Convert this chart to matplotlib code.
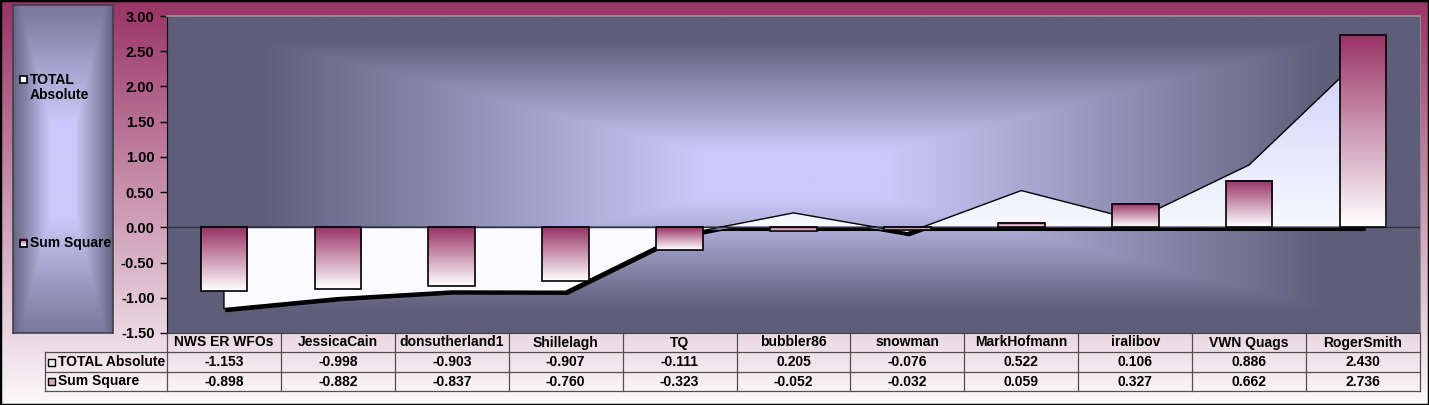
import numpy as np
import matplotlib
matplotlib.use('Agg')
import matplotlib.pyplot as plt
from matplotlib import transforms
from matplotlib.patches import Polygon, Rectangle

plt.rcParams['font.family'] = ['Liberation Sans', 'DejaVu Sans']
plt.rcParams['font.weight'] = 'bold'

categories = ['NWS ER WFOs', 'JessicaCain', 'donsutherland1', 'Shillelagh', 'TQ',
              'bubbler86', 'snowman', 'MarkHofmann', 'iralibov', 'VWN Quags', 'RogerSmith']
total_absolute = [-1.153, -0.998, -0.903, -0.907, -0.111, 0.205, -0.076, 0.522, 0.106, 0.886, 2.430]
sum_square = [-0.898, -0.882, -0.837, -0.760, -0.323, -0.052, -0.032, 0.059, 0.327, 0.662, 2.736]
series_names = ['TOTAL Absolute', 'Sum Square']
y_ticks = [-1.5, -1.0, -0.5, 0.0, 0.5, 1.0, 1.5, 2.0, 2.5, 3.0]

W, H = 1429, 405
MAROON = np.array([153, 51, 102]) / 255
WHITE = np.array([255, 255, 255]) / 255
DARK = np.array([94, 94, 122]) / 255
LIGHT = np.array([202, 202, 250]) / 255


def fx(px):
    return px / W


def fy(py):
    return 1 - py / H


def vgrad(bottom, top, n=256):
    t = np.linspace(0, 1, n)[:, None, None]
    return bottom + (top - bottom) * t


def center_grad(nx, ny, t0=0.15, t1=0.85, vscale=1.0):
    # rectangular "from center" gradient, light in the middle, dark at the edges
    u = np.linspace(0, 1, nx)[None, :]
    v = np.linspace(0, 1, ny)[:, None]
    t = np.maximum(np.abs(u - 0.5) / 0.5, vscale * np.abs(v - 0.5) / 0.5)
    f = np.clip((t - t0) / (t1 - t0), 0, 1)
    return LIGHT + (DARK - LIGHT) * f[:, :, None]


fig = plt.figure(figsize=(W / 100, H / 100), dpi=100)

# figure background: maroon at the top fading to white
bg = fig.add_axes([0, 0, 1, 1], zorder=-10)
bg.imshow(vgrad(np.array([252, 250, 251]) / 255, MAROON), origin='lower',
          extent=(0, 1, 0, 1), aspect='auto')
bg.set_axis_off()

# legend box
lg = fig.add_axes([fx(13), fy(333), fx(113) - fx(13), fy(5) - fy(333)])
lg.imshow(center_grad(200, 600, 0.25, 1.05, 0.86), origin='lower',
          extent=(0, 1, 0, 1), aspect='auto')
lg.set_xticks([])
lg.set_yticks([])
for s in lg.spines.values():
    s.set_color('#404050')
    s.set_linewidth(1.2)

key_w = 7 / 100
key_h = 7 / 328
k1 = 1 - (80 - 5) / 328
k2 = 1 - (243 - 5) / 328
lg.add_patch(Rectangle((0.07, k1 - key_h / 2), key_w, key_h, facecolor='white',
                       edgecolor='black', lw=1.2, zorder=4))
lg.text(0.17, k1 + 0.022, 'TOTAL\nAbsolute', fontsize=10, fontweight='bold',
        va='top', ha='left', linespacing=1.1)
lg.imshow(vgrad(WHITE, MAROON, 32), origin='lower',
          extent=(0.07, 0.07 + key_w, k2 - key_h / 2, k2 + key_h / 2), aspect='auto', zorder=3)
lg.add_patch(Rectangle((0.07, k2 - key_h / 2), key_w, key_h, facecolor='none',
                       edgecolor='black', lw=1.2, zorder=4))
lg.text(0.17, k2, 'Sum Square', fontsize=10, fontweight='bold',
        va='center', ha='left')
lg.set_xlim(0, 1)
lg.set_ylim(0, 1)

# main plot
ax = fig.add_axes([fx(167), fy(333), fx(1420) - fx(167), fy(16) - fy(333)])
ax.imshow(center_grad(800, 400), origin='lower',
          extent=(-0.5, 10.5, -1.5, 3.0), aspect='auto', zorder=0)

x = np.arange(len(categories))

# area series with a shadow
verts = [(0, 0)] + list(zip(x, total_absolute)) + [(x[-1], 0)]
shadow_tr = transforms.offset_copy(ax.transData, fig=fig, x=2, y=-3, units='dots')
ax.add_patch(Polygon(verts, closed=True, facecolor='black', edgecolor='black',
                     lw=1, transform=shadow_tr, zorder=1))
area = Polygon(verts, closed=True, facecolor='none', edgecolor='black', lw=1.0, zorder=3)
ax.add_patch(area)
area_img = ax.imshow(vgrad(np.array([248, 248, 255]) / 255, np.array([205, 205, 250]) / 255),
                     origin='lower', extent=(-0.5, 10.5, 0, 2.6), aspect='auto', zorder=2)
area_img.set_clip_path(area)
neg_img = ax.imshow(np.ones((2, 2, 3)) * np.array([250, 250, 255]) / 255, origin='lower',
                    extent=(-0.5, 10.5, -1.5, 0), aspect='auto', zorder=2)
neg_img.set_clip_path(area)

ax.axhline(0, color='#303040', lw=1.0, zorder=3.5)

# bars with maroon-to-white gradient
bw = 0.41
for xi, v in zip(x, sum_square):
    lo, hi = min(0, v), max(0, v)
    ax.imshow(vgrad(WHITE, MAROON, 64), origin='lower',
              extent=(xi - bw / 2, xi + bw / 2, lo, hi), aspect='auto', zorder=4)
    ax.add_patch(Rectangle((xi - bw / 2, lo), bw, hi - lo, facecolor='none',
                           edgecolor='black', lw=1.2, zorder=5))

ax.set_xlim(-0.5, 10.5)
ax.set_ylim(-1.5, 3.0)
ax.set_xticks([])
ax.set_yticks(y_ticks)
ax.set_yticklabels(['%.2f' % t for t in y_ticks], fontsize=10.5, fontweight='bold')
ax.tick_params(axis='y', direction='out', length=5, width=1, pad=4)
ax.spines['left'].set_color('black')
ax.spines['bottom'].set_color('#404040')
ax.spines['top'].set_color('#8a8a8a')
ax.spines['right'].set_color('#8a8a8a')
ax.spines['top'].set_linewidth(1.5)

# data table under the plot
trans = transforms.blended_transform_factory(ax.transData, fig.transFigure)
px_per_unit = (1420 - 167) / 11
x_head = -0.5 - (167 - 45) / px_per_unit
rows_y = [fy(333), fy(352), fy(372), fy(391)]
lc = '#505050'

for yy in rows_y[1:]:
    ax.plot([x_head, 10.5], [yy, yy], color=lc, lw=0.9, transform=trans, clip_on=False)
for i in range(len(categories) + 1):
    ax.plot([i - 0.5, i - 0.5], [rows_y[0], rows_y[3]], color=lc, lw=0.9,
            transform=trans, clip_on=False)
ax.plot([x_head, x_head], [rows_y[1], rows_y[3]], color=lc, lw=0.9,
        transform=trans, clip_on=False)

for i, name in enumerate(categories):
    ax.text(i, (rows_y[0] + rows_y[1]) / 2, name, ha='center', va='center',
            fontsize=10, fontweight='bold', transform=trans, clip_on=False)
    ax.text(i, (rows_y[1] + rows_y[2]) / 2, '%.3f' % total_absolute[i], ha='center',
            va='center', fontsize=10, fontweight='bold', transform=trans, clip_on=False)
    ax.text(i, (rows_y[2] + rows_y[3]) / 2, '%.3f' % sum_square[i], ha='center',
            va='center', fontsize=10, fontweight='bold', transform=trans, clip_on=False)

key_dx = 7 / px_per_unit
key_dy = 7 / H
for r, name in enumerate(series_names):
    yc = (rows_y[r + 1] + rows_y[r + 2]) / 2
    kx = x_head + 2.5 / px_per_unit
    if r == 0:
        ax.add_patch(Rectangle((kx, yc - key_dy / 2), key_dx, key_dy, facecolor='#f4f4ff',
                               edgecolor='black', lw=1.0, transform=trans, clip_on=False))
    else:
        ax.add_patch(Rectangle((kx, yc - key_dy / 2), key_dx, key_dy, facecolor='#d8a8bc',
                               edgecolor='black', lw=1.0, transform=trans, clip_on=False))
    ax.text(kx + key_dx + 3 / px_per_unit, yc, name, ha='left', va='center',
            fontsize=10, fontweight='bold', transform=trans, clip_on=False)

fig.add_artist(Rectangle((0, 0), 1, 1, transform=fig.transFigure, fill=False,
                         edgecolor='black', lw=2.5))

fig.savefig('out.png', dpi=100)
plt.close(fig)
